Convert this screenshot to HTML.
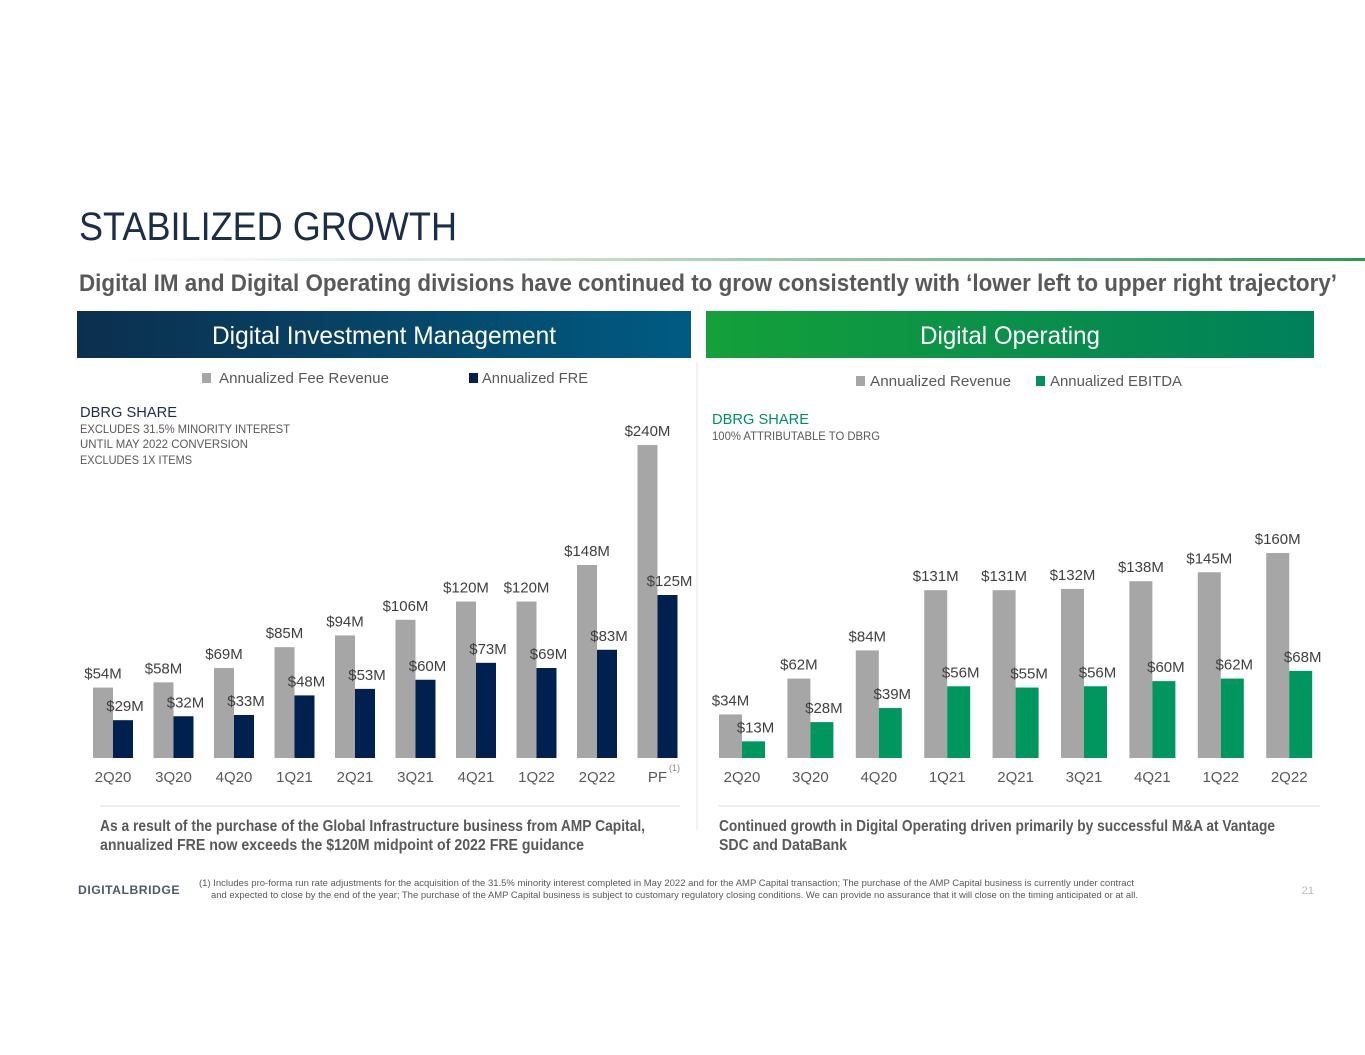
<!DOCTYPE html>
<html><head><meta charset="utf-8">
<style>
body{margin:0;background:#fff;}
svg{display:block;}
text{font-family:"Liberation Sans",sans-serif;}
</style></head>
<body>
<svg id="s" width="1365" height="1055" viewBox="0 0 1365 1055" xmlns="http://www.w3.org/2000/svg">
<defs>
<linearGradient id="gl" x1="0" y1="0" x2="1" y2="0"><stop offset="0" stop-color="#ffffff"/><stop offset="0.3" stop-color="#d6e4dc"/><stop offset="1" stop-color="#2a9a50"/></linearGradient>
<linearGradient id="gb" x1="0" y1="0" x2="1" y2="0"><stop offset="0" stop-color="#0c2f4e"/><stop offset="1" stop-color="#005b83"/></linearGradient>
<linearGradient id="gg" x1="0" y1="0" x2="1" y2="0"><stop offset="0" stop-color="#14a03a"/><stop offset="1" stop-color="#00805a"/></linearGradient>
</defs>
<text x="79" y="240" font-size="40" fill="#1c2d4b" textLength="378" lengthAdjust="spacingAndGlyphs">STABILIZED GROWTH</text>
<rect x="120" y="258" width="1245" height="3" fill="url(#gl)"/>
<text x="79" y="291" font-size="24" font-weight="bold" fill="#595959" textLength="1258" lengthAdjust="spacingAndGlyphs">Digital IM and Digital Operating divisions have continued to grow consistently with ‘lower left to upper right trajectory’</text>
<rect x="77" y="311" width="614" height="47" fill="url(#gb)"/>
<text x="212" y="344" font-size="25" fill="#fff" textLength="344" lengthAdjust="spacingAndGlyphs">Digital Investment Management</text>
<rect x="706" y="311" width="608" height="47" fill="url(#gg)"/>
<text x="920" y="344" font-size="25" fill="#fff" textLength="180" lengthAdjust="spacingAndGlyphs">Digital Operating</text>
<line x1="697" y1="362" x2="697" y2="830" stroke="#eeeeee" stroke-width="1.5"/>

<rect x="202" y="373" width="9" height="10" fill="#a6a6a6"/>
<text x="219" y="383" font-size="15" fill="#595959" textLength="170" lengthAdjust="spacingAndGlyphs">Annualized Fee Revenue</text>
<rect x="469" y="373" width="9" height="10" fill="#002050"/>
<text x="482" y="383" font-size="15" fill="#595959" textLength="106" lengthAdjust="spacingAndGlyphs">Annualized FRE</text>
<rect x="856" y="376" width="9" height="10" fill="#a6a6a6"/>
<text x="870" y="386" font-size="15" fill="#595959" textLength="141" lengthAdjust="spacingAndGlyphs">Annualized Revenue</text>
<rect x="1036" y="376" width="9" height="10" fill="#009060"/>
<text x="1050" y="386" font-size="15" fill="#595959" textLength="132" lengthAdjust="spacingAndGlyphs">Annualized EBITDA</text>

<text x="80" y="417" font-size="15" fill="#1c2d4b" textLength="97" lengthAdjust="spacingAndGlyphs">DBRG SHARE</text>
<text x="80" y="433" font-size="11.5" fill="#595959" textLength="210" lengthAdjust="spacingAndGlyphs">EXCLUDES 31.5% MINORITY INTEREST</text>
<text x="80" y="448" font-size="11.5" fill="#595959" textLength="168" lengthAdjust="spacingAndGlyphs">UNTIL MAY 2022 CONVERSION</text>
<text x="80" y="464" font-size="11.5" fill="#595959" textLength="112" lengthAdjust="spacingAndGlyphs">EXCLUDES 1X ITEMS</text>
<text x="712" y="424" font-size="15" fill="#009060" textLength="97" lengthAdjust="spacingAndGlyphs">DBRG SHARE</text>
<text x="712" y="440" font-size="11.5" fill="#595959" textLength="168" lengthAdjust="spacingAndGlyphs">100% ATTRIBUTABLE TO DBRG</text>

<g id="left"></g>
<g id="right"></g>
<text x="669" y="771" font-size="9" fill="#888">(1)</text>

<line x1="100" y1="806" x2="680" y2="806" stroke="#dddddd"/>
<line x1="718" y1="806" x2="1320" y2="806" stroke="#dddddd"/>
<text x="100" y="831" font-size="15.5" font-weight="bold" fill="#595959" textLength="545" lengthAdjust="spacingAndGlyphs">As a result of the purchase of the Global Infrastructure business from AMP Capital,</text>
<text x="100" y="850" font-size="15.5" font-weight="bold" fill="#595959" textLength="484" lengthAdjust="spacingAndGlyphs">annualized FRE now exceeds the $120M midpoint of 2022 FRE guidance</text>
<text x="719" y="831" font-size="15.5" font-weight="bold" fill="#595959" textLength="556" lengthAdjust="spacingAndGlyphs">Continued growth in Digital Operating driven primarily by successful M&amp;A at Vantage</text>
<text x="719" y="850" font-size="15.5" font-weight="bold" fill="#595959" textLength="128" lengthAdjust="spacingAndGlyphs">SDC and DataBank</text>

<text x="78" y="894" font-size="12" font-weight="bold" fill="#4a5a6a" letter-spacing="0.5" textLength="102" lengthAdjust="spacingAndGlyphs">DIGITALBRIDGE</text>
<text x="199" y="886" font-size="9" fill="#595959" textLength="935" lengthAdjust="spacingAndGlyphs">(1) Includes pro-forma run rate adjustments for the acquisition of the 31.5% minority interest completed in May 2022 and for the AMP Capital transaction; The purchase of the AMP Capital business is currently under contract</text>
<text x="211" y="898" font-size="9" fill="#595959" textLength="927" lengthAdjust="spacingAndGlyphs">and expected to close by the end of the year; The purchase of the AMP Capital business is subject to customary regulatory closing conditions.  We can provide no assurance that it will close on the timing anticipated or at all.</text>
<text x="1314" y="894" font-size="11" fill="#bbbbbb" text-anchor="end">21</text>
</svg>
<script>
const leftCats = ["2Q20","3Q20","4Q20","1Q21","2Q21","3Q21","4Q21","1Q22","2Q22","PF"];
const feeRevenue = [54,58,69,85,94,106,120,120,148,240];
const fre = [29,32,33,48,53,60,73,69,83,125];
const rightCats = ["2Q20","3Q20","4Q20","1Q21","2Q21","3Q21","4Q21","1Q22","2Q22"];
const revenue = [34,62,84,131,131,132,138,145,160];
const ebitda = [13,28,39,56,55,56,60,62,68];

const NS = "http://www.w3.org/2000/svg";
function mk(tag, attrs, parent, txt){
  const e = document.createElementNS(NS, tag);
  for (const k in attrs) e.setAttribute(k, attrs[k]);
  if (txt !== undefined) e.textContent = txt;
  parent.appendChild(e);
  return e;
}
function drawChart(g, cats, s1, s2, c2, x0, step, bw, scale, prefix){
  const base = 758;
  const y = v => base - v * scale;
  const cx = i => x0 + i * step;
  cats.forEach((c, i) => {
    const b1 = mk("rect", {x: cx(i) - bw, y: y(s1[i]), width: bw, height: base - y(s1[i]), fill: "#a6a6a6"}, g);
    
    
    const b2 = mk("rect", {x: cx(i), y: y(s2[i]), width: bw, height: base - y(s2[i]), fill: c2}, g);
    
    
    const t1 = mk("text", {x: cx(i) - bw / 2, y: y(s1[i]) - 9, "font-size": 15, fill: "#404040", "text-anchor": "middle"}, g, "$" + s1[i] + "M");
    
    
    const t2 = mk("text", {x: cx(i) + bw / 2 + 2, y: y(s2[i]) - 9, "font-size": 15, fill: "#404040", "text-anchor": "middle"}, g, "$" + s2[i] + "M");
    
    
    const tk = mk("text", {x: cx(i), y: 782, "font-size": 15, fill: "#595959", "text-anchor": "middle"}, g, c);
    
    
  });
}
drawChart(document.getElementById("left"), leftCats, feeRevenue, fre, "#002050", 113, 60.5, 20, 1.304, "dim");
drawChart(document.getElementById("right"), rightCats, revenue, ebitda, "#009660", 742, 68.4, 23, 1.281, "do");
</script>
</body></html>
